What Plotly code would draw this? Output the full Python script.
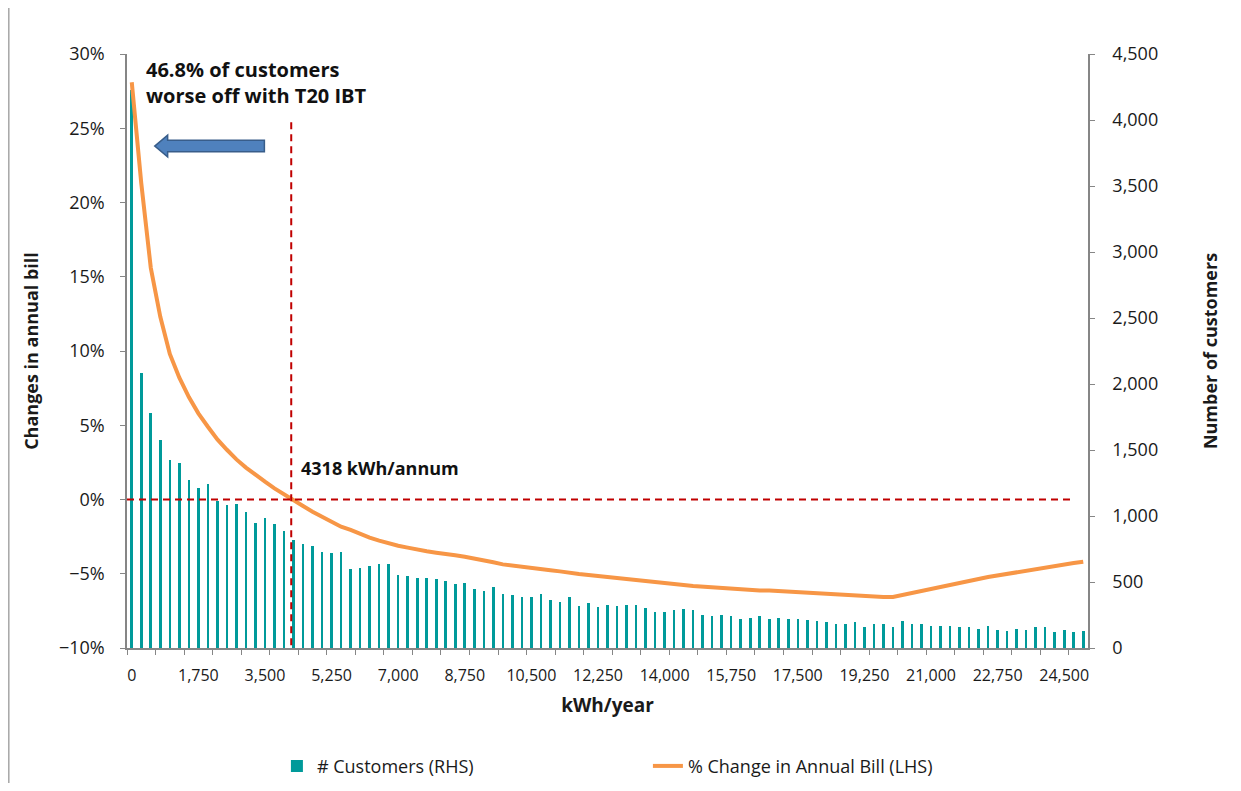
import plotly.graph_objects as go

# ---- data ----
kwh = [i * 250 for i in range(101)]
customers = [4230, 2080, 1780, 1575, 1424, 1404, 1270, 1215, 1242, 1116,
             1081, 1091, 1033, 949, 985, 942, 886, 818, 788, 773,
             727, 720, 727, 601, 609, 621, 634, 634, 553, 545,
             528, 530, 525, 510, 485, 495, 447, 432, 460, 411,
             399, 384, 384, 411, 364, 348, 384, 321, 341, 308,
             328, 316, 323, 323, 301, 273, 273, 286, 295, 288,
             252, 240, 252, 240, 220, 227, 245, 220, 227, 220,
             220, 212, 205, 197, 182, 182, 197, 162, 182, 182,
             162, 205, 182, 182, 169, 169, 169, 162, 157, 141,
             169, 134, 129, 141, 134, 157, 162, 121, 134, 121, 129]
pct_change = [28.1, 21.3, 15.6, 12.3, 9.8, 8.2, 6.9, 5.8, 4.9, 4.05,
              3.35, 2.7, 2.15, 1.65, 1.2, 0.75, 0.33, -0.08, -0.44, -0.82,
              -1.18, -1.49, -1.83, -2.05, -2.32, -2.57, -2.77, -2.95, -3.11, -3.24,
              -3.38, -3.49, -3.58, -3.64, -3.75, -3.85, -3.96, -4.10, -4.23, -4.37,
              -4.46, -4.55, -4.64, -4.70, -4.77, -4.84, -4.95, -5.02, -5.08, -5.15,
              -5.22, -5.31, -5.40, -5.44, -5.51, -5.58, -5.64, -5.69, -5.76, -5.82,
              -5.87, -5.89, -5.96, -5.98, -6.03, -6.07, -6.12, -6.12, -6.16, -6.23,
              -6.27, -6.30, -6.34, -6.36, -6.41, -6.43, -6.48, -6.52, -6.54, -6.57,
              -6.57, -6.43, -6.27, -6.12, -5.98, -5.85, -5.73, -5.60, -5.47, -5.35,
              -5.22, -5.11, -5.00, -4.91, -4.81, -4.70, -4.59, -4.48, -4.39, -4.28, -4.19]
pct_frac = [v / 100 for v in pct_change]
x_tick_vals = [i * 1750 for i in range(15)]
x_tick_text = [f"{v:,}" for v in x_tick_vals]
breakeven_kwh = 4190  # visual position of the 4318 kWh/annum marker

FONT = "Open Sans, sans-serif"
TEAL = "#009A9A"
ORANGE = "#F79646"
RED = "#C00000"
AX = "#868686"

fig = go.Figure()
fig.add_trace(go.Bar(x=kwh, y=customers, name="# Customers (RHS)",
                     marker=dict(color=TEAL, line=dict(width=0)),
                     width=68, yaxis="y"))
fig.add_trace(go.Scatter(x=kwh, y=pct_frac, name="% Change in Annual Bill (LHS)",
                         mode="lines", line=dict(color=ORANGE, width=4),
                         yaxis="y2"))

fig.update_layout(
    width=1225, height=775,
    margin=dict(l=119, r=145, t=46, b=135, autoexpand=False),
    paper_bgcolor="white", plot_bgcolor="white",
    font=dict(family=FONT, size=18, color="#1a1a1a"),
    showlegend=True,
    bargap=0,
    legend=dict(orientation="h", x=0.156, xanchor="left", y=-0.199, yanchor="middle",
                entrywidth=326, entrywidthmode="pixels",
                font=dict(size=18, family=FONT), traceorder="normal"),
    xaxis=dict(range=[-125, 25125], tickmode="array", tickvals=x_tick_vals,
               ticktext=x_tick_text, ticks="", showline=True, linecolor=AX,
               linewidth=1.5, showgrid=False, zeroline=False, automargin=False,
               ticklabelstandoff=12, tickfont=dict(size=16, family=FONT),
               minor=dict(ticks="outside", tick0=-125, dtick=750, ticklen=5,
                          tickcolor=AX, showgrid=False),
               title=dict(text="<b>kWh/year</b>", font=dict(size=19, family=FONT),
                          standoff=14)),
    yaxis=dict(range=[0, 4500], dtick=500, tickformat=",", side="right",
               showline=True, linecolor=AX, linewidth=1.5, ticks="outside",
               ticklen=5, tickcolor=AX, showgrid=False, zeroline=False,
               ticklabelstandoff=14, automargin=False,
               tickfont=dict(size=18, family=FONT),
               title=dict(text="<b>Number of customers</b>",
                          font=dict(size=18, family=FONT), standoff=47)),
    yaxis2=dict(range=[-0.1, 0.3], dtick=0.05, tickformat=".0%", side="left",
                overlaying="y", showline=True, linecolor=AX, linewidth=1.5,
                ticks="outside", ticklen=5, tickcolor=AX, showgrid=False,
                zeroline=False, ticklabelstandoff=12, automargin=False,
                tickfont=dict(size=18, family=FONT),
                title=dict(text="<b>Changes in annual bill</b>",
                           font=dict(size=18, family=FONT), standoff=16)),
)

dash = "7px,5px"
# horizontal break-even line at 0%
fig.add_shape(type="line", xref="x", yref="y2", x0=-125, x1=24710, y0=0, y1=0,
              line=dict(color=RED, width=2, dash=dash))
# vertical marker
fig.add_shape(type="line", xref="x", yref="y2", x0=breakeven_kwh, x1=breakeven_kwh,
              y0=0.254, y1=-0.1, line=dict(color=RED, width=2, dash=dash))

# block arrow pointing left
tip, headx, tail = 603, 943, 3485
yc, hb, hh = 0.238, 0.0039, 0.0073
path = (f"M {tip},{yc} L {headx},{yc+hh} L {headx},{yc+hb} L {tail},{yc+hb} "
        f"L {tail},{yc-hb} L {headx},{yc-hb} L {headx},{yc-hh} Z")
fig.add_shape(type="path", xref="x", yref="y2", path=path,
              fillcolor="#4F81BD", line=dict(color="#385D8A", width=1.5))

# left chart border
fig.add_shape(type="line", xref="paper", yref="paper", x0=-0.1230, x1=-0.1230,
              y0=-0.26, y1=1.1, line=dict(color="#A6A6A6", width=1.5))

fig.add_annotation(xref="x", yref="y2", x=314, y=0.300, xanchor="left", yanchor="top",
                   text="<b>46.8% of customers<br>worse off with T20 IBT</b>",
                   showarrow=False, align="left", font=dict(size=20, family=FONT, color="#111"))
fig.add_annotation(xref="x", yref="y2", x=4402, y=0.0212, xanchor="left", yanchor="middle",
                   text="<b>4318 kWh/annum</b>", showarrow=False,
                   font=dict(size=18, family=FONT, color="#111"))

fig.write_html("out.html")
